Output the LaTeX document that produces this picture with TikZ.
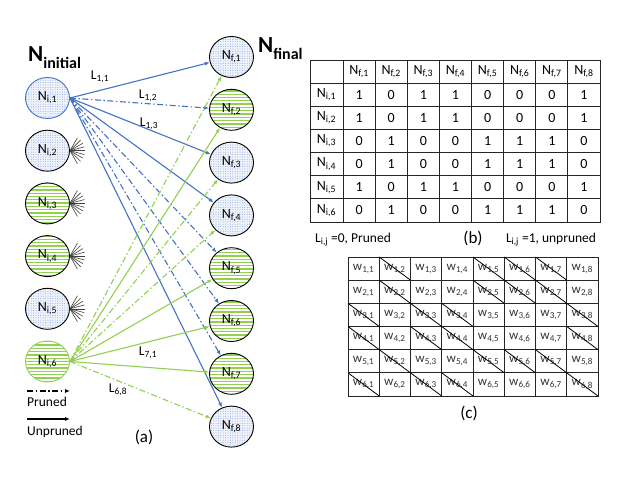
\documentclass[tikz,border=0pt]{standalone}
\usepackage{fontspec}
\setmainfont{Carlito}
\usetikzlibrary{arrows.meta, shapes, patterns, positioning}
\definecolor{bluel}{RGB}{68,114,196}
\definecolor{greenl}{RGB}{146,208,80}
\definecolor{dotbg}{RGB}{238,242,250}
\definecolor{dotfg}{RGB}{130,158,214}
\pgfdeclarepatternformonly{hstripes}{\pgfqpoint{-0.1pt}{-0.1pt}}{\pgfqpoint{2.1pt}{3.4pt}}{\pgfqpoint{2pt}{3.3pt}}{%
	\pgfpathrectangle{\pgfqpoint{-0.1pt}{0pt}}{\pgfqpoint{2.2pt}{1.3pt}}\pgfusepath{fill}}
\pgfdeclarepatternformonly{fdots}{\pgfqpoint{-0.6pt}{-0.6pt}}{\pgfqpoint{0.6pt}{0.6pt}}{\pgfqpoint{2.4pt}{2.4pt}}{%
	\pgfpathcircle{\pgfqpoint{0pt}{0pt}}{0.45pt}\pgfusepath{fill}}
\tikzstyle{neuron} = [ellipse, draw=black, line width=0.9pt, minimum width=44pt, minimum height=41pt, inner sep=0pt, font=\fontsize{14}{14}\selectfont]
\tikzstyle{bluen} = [neuron, preaction={fill=dotbg}, pattern=fdots, pattern color=dotfg]
\tikzstyle{greenn} = [neuron, preaction={fill=white}, pattern=hstripes, pattern color=greenl]
\tikzstyle{lab} = [font=\fontsize{13.5}{13.5}\selectfont, inner sep=0pt]
\tikzstyle{cell} = [font=\fontsize{14}{14}\selectfont, inner sep=0pt]
\tikzstyle{wcell} = [font=\fontsize{13}{13}\selectfont, text=black!80, inner sep=0pt]
\tikzstyle{caption} = [font=\fontsize{17}{17}\selectfont, inner sep=0pt]
\tikzstyle{grid} = [line width=0.8pt, black!85]
\tikzset{
	PRUNED/.style={line width=1.1pt, dash pattern=on 6pt off 2.5pt on 1.5pt off 2.5pt, arrows={-Latex[length=5pt, width=4pt]}},
	UNPRUNED/.style={line width=1.1pt, arrows={-Latex[length=5pt, width=4pt]}}
}
\begin{document}
\begin{tikzpicture}[x=1pt, y=-1pt]
\useasboundingbox (0,0) rectangle (623,481);
% (a) network
\node (ninit) [anchor=base west, inner sep=0pt] at (28,62) {\fontsize{23}{23}\selectfont\bfseries N\raisebox{-7pt}{\fontsize{16}{16}\selectfont initial}};
\node (nfinal) [anchor=base west, inner sep=0pt] at (258,53) {\fontsize{23}{23}\selectfont\bfseries N\raisebox{-7pt}{\fontsize{16}{16}\selectfont final}};
\node (ni1) [bluen, draw=bluel] at (47.5,98) {N\textsubscript{i,1}};
\node (ni2) [bluen, below=10.8pt of ni1] {N\textsubscript{i,2}};
\node (ni3) [greenn, below=10.8pt of ni2] {N\textsubscript{i,3}};
\node (ni4) [greenn, below=10.8pt of ni3] {N\textsubscript{i,4}};
\node (ni5) [bluen, below=10.8pt of ni4] {N\textsubscript{i,5}};
\node (ni6) [greenn, draw=greenl, below=10.8pt of ni5] {N\textsubscript{i,6}};
\node (nf1) [bluen] at (231.5,57) {N\textsubscript{f,1}};
\node (nf2) [greenn, below=10.9pt of nf1] {N\textsubscript{f,2}};
\node (nf3) [bluen, below=10.9pt of nf2] {N\textsubscript{f,3}};
\node (nf4) [bluen, below=10.9pt of nf3] {N\textsubscript{f,4}};
\node (nf5) [greenn, below=10.9pt of nf4] {N\textsubscript{f,5}};
\node (nf6) [greenn, below=10.9pt of nf5] {N\textsubscript{f,6}};
\node (nf7) [greenn, below=10.9pt of nf6] {N\textsubscript{f,7}};
\node (nf8) [bluen, below=10.9pt of nf7] {N\textsubscript{f,8}};
\foreach \k in {1,3,4,8} \draw [UNPRUNED, bluel] (ni1.east) -- (nf\k);
\foreach \k in {2,5,6,7} \draw [PRUNED, bluel] (ni1.east) -- (nf\k);
\foreach \k in {2,5,6,7} \draw [UNPRUNED, greenl] (ni6.east) -- (nf\k);
\foreach \k in {1,3,4,8} \draw [PRUNED, greenl] (ni6.east) -- (nf\k);
\foreach \k in {2,...,5}
	\foreach \a in {-60,-45,...,60}
		\draw [black!75, line width=0.6pt] (ni\k.east) -- ++(\a:15);
\node (l11) [lab] at (100,77) {L\textsubscript{1,1}};
\node (l12) [lab] at (148,96) {L\textsubscript{1,2}};
\node (l13) [lab] at (149,124) {L\textsubscript{1,3}};
\node (l71) [lab] at (148,353) {L\textsubscript{7,1}};
\node (l68) [lab] at (118,390) {L\textsubscript{6,8}};
% legend
\coordinate (pa) at (27,391);
\coordinate (pb) at (70,391);
\draw [PRUNED, black] (pa) -- (pb);
\node (tp) [lab, anchor=west] at (27,402) {Pruned};
\coordinate (ua) at (27,419);
\coordinate (ub) at (70,419);
\draw [UNPRUNED, black] (ua) -- (ub);
\node (tu) [lab, anchor=west] at (27,432) {Unpruned};
\node (capa) [caption] at (144,437) {(a)};
% (b) and (c) tables
\draw [grid] (310,60) rectangle (600,222);
\foreach \c in {0,...,7} \draw [grid] (343+32.125*\c,60) -- (343+32.125*\c,222);
\foreach \r in {0,...,5} \draw [grid] (310,83+23.17*\r) -- (600,83+23.17*\r);
\draw [grid] (348,257) rectangle (598,396);
\foreach \c in {1,...,7} \draw [grid] (348+31.25*\c,257) -- (348+31.25*\c,396);
\foreach \r in {1,...,5} \draw [grid] (348,257+23.17*\r) -- (598,257+23.17*\r);
\foreach \c in {1,...,8} \node (bh\c) [cell] at (359.06+32.125*\c-32.125,71.5) {N\textsubscript{f,\c}};
\foreach \r/\row in {1/{1,0,1,1,0,0,0,1}, 2/{1,0,1,1,0,0,0,1}, 3/{0,1,0,0,1,1,1,0},
		4/{0,1,0,0,1,1,1,0}, 5/{1,0,1,1,0,0,0,1}, 6/{0,1,0,0,1,1,1,0}} {
	\node (br\r) [cell] at (326.5,94.6+23.17*\r-23.17) {N\textsubscript{i,\r}};
	\foreach \v [count=\c] in \row {
		\node (bv\r\c) [cell] at (359.06+32.125*\c-32.125,94.6+23.17*\r-23.17) {\v};
		\node (w\r\c) [wcell] at (363.6+31.25*\c-31.25,268.6+23.17*\r-23.17) {w\textsubscript{\r,\c}};
		\ifnum\v=0
			\draw [black, line width=0.8pt] (348+31.25*\c-31.25,257+23.17*\r-23.17) -- ++(31.25,23.17);
		\fi
	}
}
\node (lz) [lab] at (353,240) {L\textsubscript{i,j} =0, Pruned};
\node (capb) [caption] at (473,238) {(b)};
\node (lo) [lab] at (551,240) {L\textsubscript{i,j} =1, unpruned};
\node (capc) [caption] at (469,413) {(c)};
\end{tikzpicture}
\end{document}
